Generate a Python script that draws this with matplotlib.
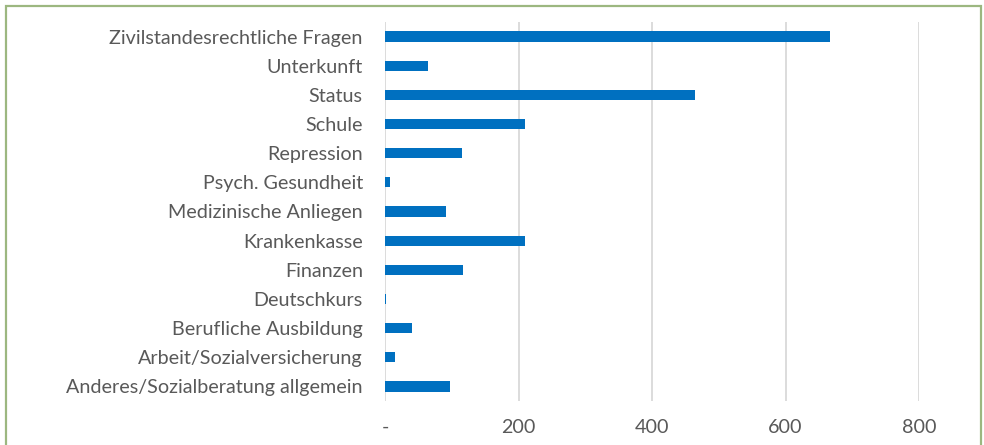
import matplotlib
matplotlib.use('Agg')
import matplotlib.pyplot as plt
from matplotlib.patches import Rectangle

categories = [
    'Zivilstandesrechtliche Fragen',
    'Unterkunft',
    'Status',
    'Schule',
    'Repression',
    'Psych. Gesundheit',
    'Medizinische Anliegen',
    'Krankenkasse',
    'Finanzen',
    'Deutschkurs',
    'Berufliche Ausbildung',
    'Arbeit/Sozialversicherung',
    'Anderes/Sozialberatung allgemein',
]
values = [667, 64, 464, 209, 115, 8, 91, 209, 117, 1, 41, 15, 97]
xticks = [0, 200, 400, 600, 800]
xticklabels = ['-', '200', '400', '600', '800']

plt.rcParams['font.family'] = ['Lato', 'DejaVu Sans']
text_col = '#595959'

fig = plt.figure(figsize=(9.84, 4.45), dpi=100)
ax = fig.add_axes([385 / 984, 1 - 401 / 445, (919 - 385) / 984, (401 - 22) / 445])

pos = list(range(len(categories)))[::-1]
ax.barh(pos, values, height=0.35, color='#0070C0', zorder=3)

ax.set_xlim(0, 800)
ax.set_ylim(-0.5, len(categories) - 0.5)
ax.set_xticks(xticks)
ax.set_xticklabels(xticklabels)
ax.set_yticks(pos)
ax.set_yticklabels(categories)
ax.tick_params(axis='both', length=0, colors=text_col, labelsize=14.2)
ax.tick_params(axis='y', pad=16)
ax.tick_params(axis='x', pad=13)
ax.grid(axis='x', color='#D9D9D9', linewidth=1.3, zorder=0)
for s in ax.spines.values():
    s.set_visible(False)

# green frame round the chart
fig.add_artist(Rectangle((5.5 / 984, -0.05), (981 - 5.5) / 984, 1.05 - 6 / 445,
                         transform=fig.transFigure, fill=False,
                         edgecolor='#9CB780', linewidth=1.6))

fig.savefig('out.png', dpi=100)
